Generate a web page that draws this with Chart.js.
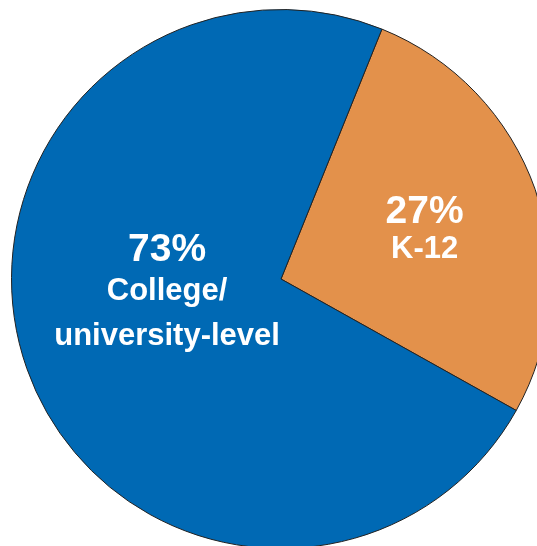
<!DOCTYPE html>
<html>
<head>
<meta charset="utf-8">
<script src="https://cdn.jsdelivr.net/npm/chart.js@4/dist/chart.umd.min.js"></script>
<style>
  html, body { margin: 0; padding: 0; background: #fff; overflow: hidden; }
  #wrap { position: absolute; left: 11px; top: 9px; width: 540px; height: 540px; }
</style>
</head>
<body>
<div id="wrap"><canvas id="pie" width="540" height="540"></canvas></div>
<script>
// data
const categories = ['K-12', 'College/university-level'];
const shares = [27, 73];
const percentLabels = ['27%', '73%'];
const nameLines = [['K-12'], ['College/', 'university-level']];
const sliceColors = ['#E3914B', '#0069B4'];

// where each label block sits (fraction of radius, angle nudge in degrees, baseline offsets)
const labelPlace = [
    { frac: 0.565, shift: 0, lines: [-5.5, 29.5] },
    { frac: 0.424, shift: 15, lines: [-27, 12, 57] }
];

const sliceLabels = {
    id: 'sliceLabels',
    afterDatasetsDraw(chart) {
        const ctx = chart.ctx;
        const meta = chart.getDatasetMeta(0);
        meta.data.forEach((arc, i) => {
            const p = arc.getProps(['x', 'y', 'startAngle', 'endAngle', 'outerRadius'], true);
            const place = labelPlace[i];
            const a = (p.startAngle + p.endAngle) / 2 + place.shift * Math.PI / 180;
            const cx = p.x + Math.cos(a) * p.outerRadius * place.frac;
            const cy = p.y + Math.sin(a) * p.outerRadius * place.frac;
            const texts = [percentLabels[i], ...nameLines[i]];
            ctx.save();
            ctx.fillStyle = '#fff';
            ctx.textAlign = 'center';
            ctx.textBaseline = 'alphabetic';
            texts.forEach((t, j) => {
                ctx.font = j === 0 ? 'bold 39px "Liberation Sans", Arial, sans-serif'
                                   : 'bold 31px "Liberation Sans", Arial, sans-serif';
                ctx.fillText(t, cx, cy + place.lines[j]);
            });
            ctx.restore();
        });
    }
};

new Chart(document.getElementById('pie'), {
    type: 'pie',
    data: {
        labels: categories,
        datasets: [{
            data: shares,
            backgroundColor: sliceColors,
            borderColor: '#222',
            borderWidth: 1
        }]
    },
    options: {
        responsive: false,
        animation: false,
        rotation: 22,
        layout: { padding: 0 },
        plugins: {
            legend: { display: false },
            tooltip: { enabled: false }
        }
    },
    plugins: [sliceLabels]
});
</script>
</body>
</html>
